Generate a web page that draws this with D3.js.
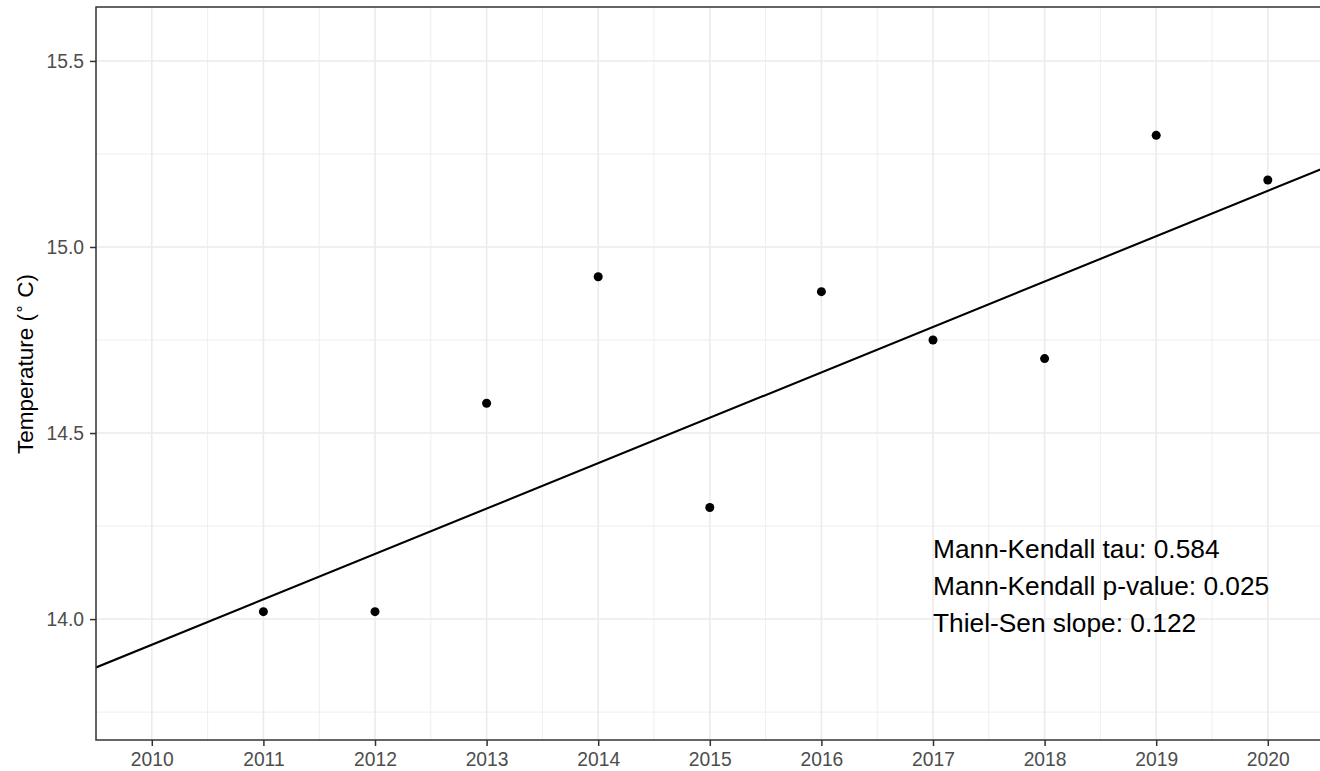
<!DOCTYPE html>
<html>
<head>
<meta charset="utf-8">
<script src="https://cdn.jsdelivr.net/npm/d3@7"></script>
<style>
  html, body { margin: 0; padding: 0; background: #ffffff; }
  svg { display: block; font-family: "Liberation Sans", Arial, sans-serif; }
</style>
</head>
<body>
<svg id="chart" width="1320" height="771"></svg>
<script>
// ---- data ----
const years = [2011, 2012, 2013, 2014, 2015, 2016, 2017, 2018, 2019, 2020];
const temps = [14.02, 14.02, 14.58, 14.92, 14.30, 14.88, 14.75, 14.70, 15.30, 15.18];
const xTickValues = [2010, 2011, 2012, 2013, 2014, 2015, 2016, 2017, 2018, 2019, 2020];
const yTickValues = [14.0, 14.5, 15.0, 15.5];
const xMinor = [2009.5, 2010.5, 2011.5, 2012.5, 2013.5, 2014.5, 2015.5, 2016.5, 2017.5, 2018.5, 2019.5, 2020.5];
const yMinor = [13.75, 14.25, 14.75, 15.25];
const trendSlope = 0.122;
const trendAt2015 = 14.541;
const statLabels = ["Mann-Kendall tau: 0.584", "Mann-Kendall p-value: 0.025", "Thiel-Sen slope: 0.122"];
const statYears = [2017, 2017, 2017];
const statValues = [14.19, 14.09, 13.99];

// ---- layout ----
const svg = d3.select("#chart");
const pLeft = 96, pTop = 7, pBottom = 740, pRight = 1323.6;
const xDomain = [2009.5, 2020.5];
const x = d3.scaleLinear().domain(xDomain).range([pLeft, pRight]);
const y = d3.scaleLinear().domain([13.675, 15.645]).range([pBottom, pTop]);

svg.append("defs").append("clipPath").attr("id", "panel")
  .append("rect").attr("x", pLeft).attr("y", pTop).attr("width", pRight - pLeft).attr("height", pBottom - pTop);

const grid = svg.append("g");
// minor grid
grid.selectAll("line.xm").data(xMinor).join("line")
  .attr("class", "xm")
  .attr("x1", d => x(d)).attr("x2", d => x(d)).attr("y1", pTop).attr("y2", pBottom)
  .attr("stroke", "#ececec").attr("stroke-width", 0.9);
grid.selectAll("line.ym").data(yMinor).join("line")
  .attr("class", "ym")
  .attr("x1", pLeft).attr("x2", pRight).attr("y1", d => y(d)).attr("y2", d => y(d))
  .attr("stroke", "#ececec").attr("stroke-width", 0.9);
// major grid
grid.selectAll("line.xM").data(xTickValues).join("line")
  .attr("class", "xM")
  .attr("x1", d => x(d)).attr("x2", d => x(d)).attr("y1", pTop).attr("y2", pBottom)
  .attr("stroke", "#ebebeb").attr("stroke-width", 1.6);
grid.selectAll("line.yM").data(yTickValues).join("line")
  .attr("class", "yM")
  .attr("x1", pLeft).attr("x2", pRight).attr("y1", d => y(d)).attr("y2", d => y(d))
  .attr("stroke", "#ebebeb").attr("stroke-width", 1.6);

// trend line
const trend = d => trendAt2015 + trendSlope * (d - 2015);
svg.append("line")
  .attr("clip-path", "url(#panel)")
  .attr("x1", x(xDomain[0])).attr("y1", y(trend(xDomain[0])))
  .attr("x2", x(xDomain[1])).attr("y2", y(trend(xDomain[1])))
  .attr("stroke", "#000").attr("stroke-width", 2.1);

// points
svg.selectAll("circle.pt").data(years).join("circle")
  .attr("class", "pt")
  .attr("cx", d => x(d)).attr("cy", (d, i) => y(temps[i]))
  .attr("r", 4.5).attr("fill", "#000");

// annotation
svg.selectAll("text.stat").data(statLabels).join("text")
  .attr("class", "stat")
  .attr("x", (d, i) => x(statYears[i]))
  .attr("y", (d, i) => y(statValues[i]))
  .attr("dy", "0.35em")
  .attr("font-size", 26.3)
  .attr("fill", "#000")
  .text(d => d);

// axes
const yAxis = svg.append("g").attr("transform", `translate(${pLeft},0)`)
  .call(d3.axisLeft(y).tickValues(yTickValues).tickFormat(d3.format(".1f")).tickSize(6).tickPadding(6));
const xAxis = svg.append("g").attr("transform", `translate(0,${pBottom})`)
  .call(d3.axisBottom(x).tickValues(xTickValues).tickFormat(d3.format("d")).tickSize(6).tickPadding(6));
[yAxis, xAxis].forEach(a => {
  a.select(".domain").remove();
  a.selectAll(".tick line").attr("stroke", "#333333").attr("stroke-width", 1.5);
  a.selectAll(".tick text").attr("fill", "#4d4d4d").attr("font-size", 19.3)
    .attr("font-family", "Liberation Sans, Arial, sans-serif");
});

// panel border
svg.append("rect")
  .attr("x", pLeft).attr("y", pTop).attr("width", pRight - pLeft).attr("height", pBottom - pTop)
  .attr("fill", "none").attr("stroke", "#333333").attr("stroke-width", 1.5);

// y title
const yt = svg.append("text")
  .attr("transform", `translate(33,364) rotate(-90)`)
  .attr("text-anchor", "middle")
  .attr("font-size", 22.5)
  .attr("fill", "#000");
yt.append("tspan").text("Temperature (");
yt.append("tspan").attr("font-size", 16).attr("dy", -8).text("∘");
yt.append("tspan").attr("dy", 8).text(" C)");
</script>
</body>
</html>
